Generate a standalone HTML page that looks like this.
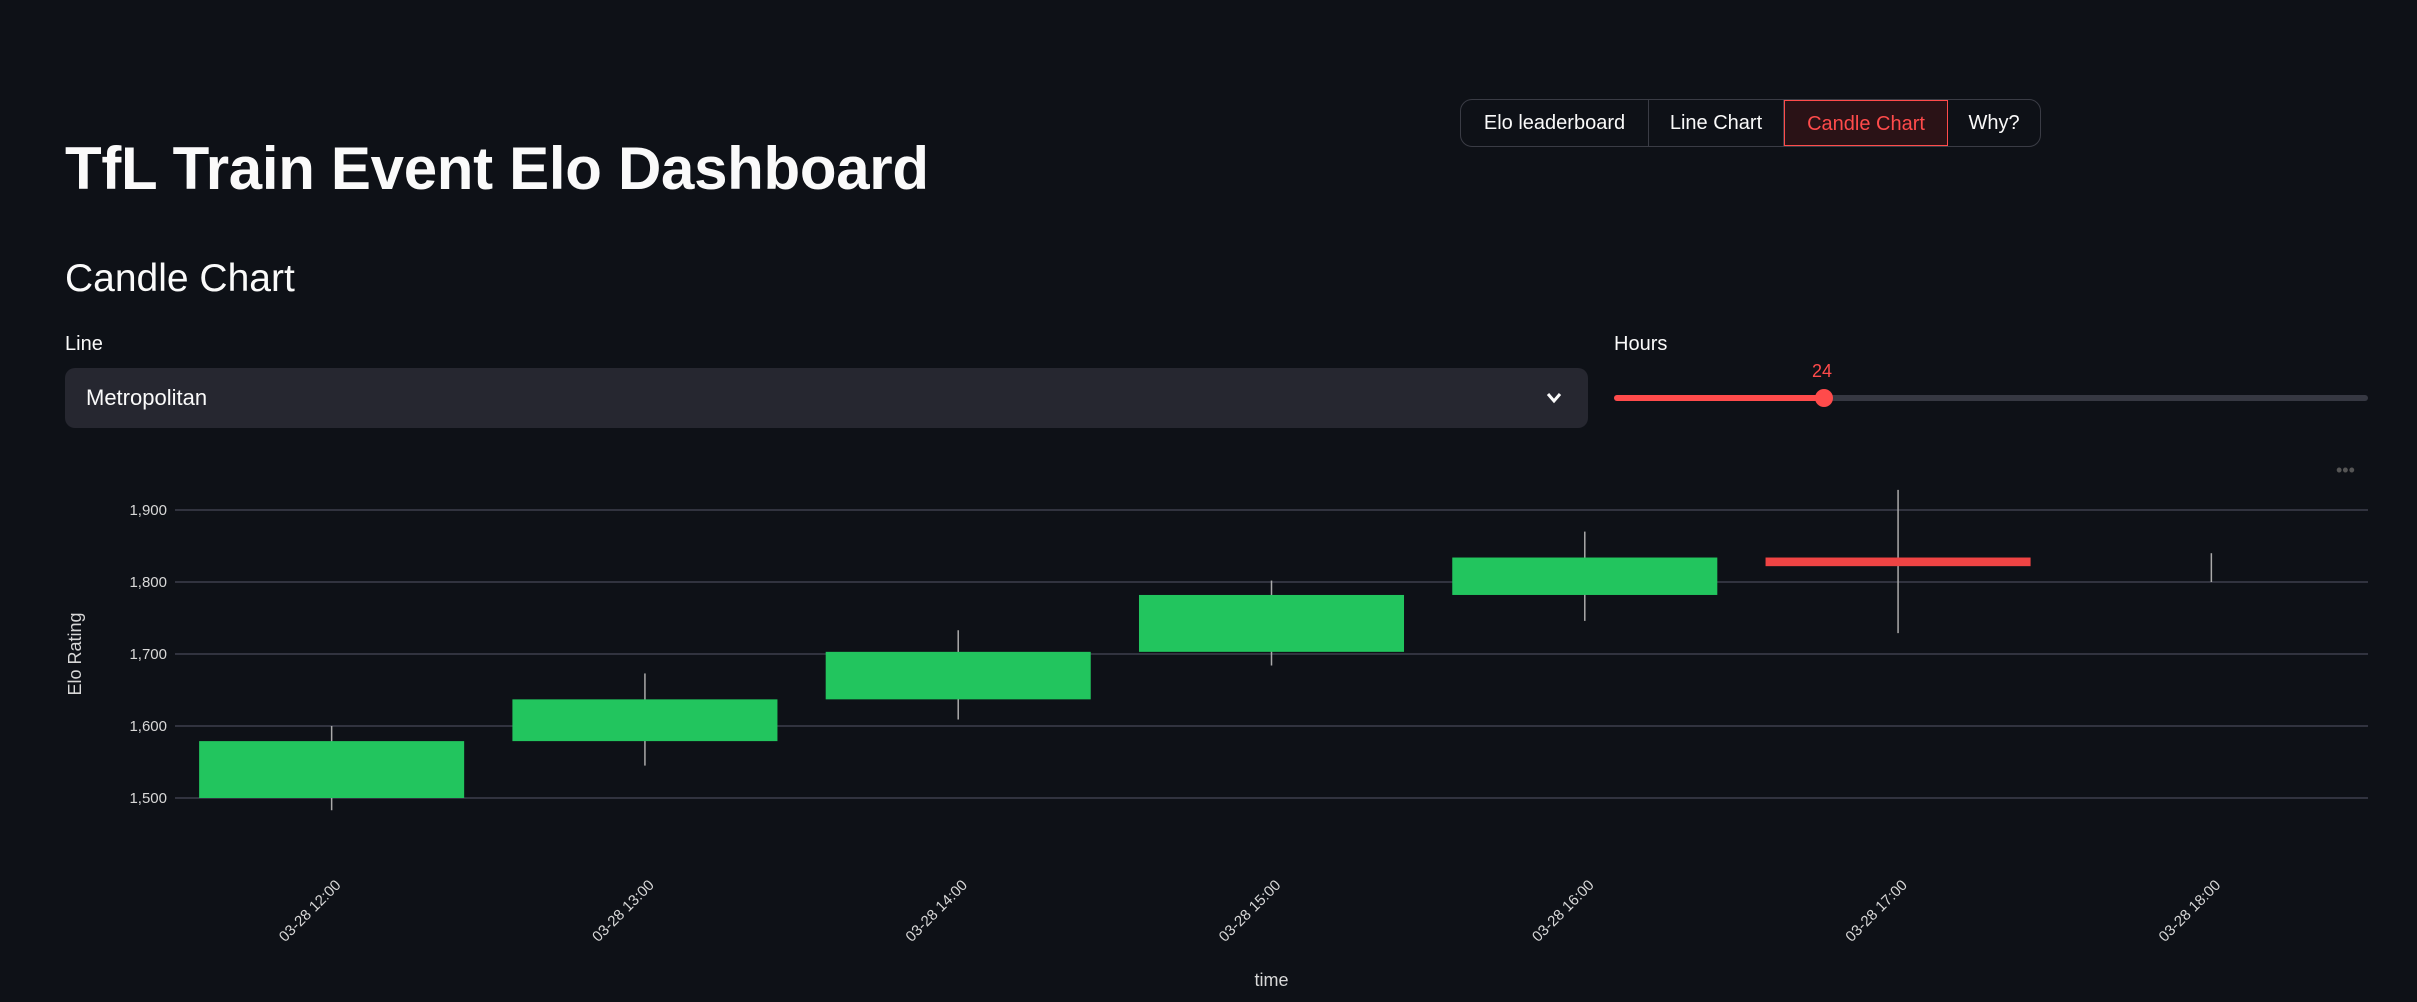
<!DOCTYPE html>
<html><head><meta charset="utf-8"><style>
html,body{margin:0;padding:0;background:#0e1117;width:2417px;height:1002px;overflow:hidden;font-family:"Liberation Sans",sans-serif;color:#fafafa}
.abs{position:absolute}
#nav{left:1460px;top:99px;width:579px;height:46px;border:1px solid #3a3c45;border-radius:12px;display:flex;overflow:hidden}
#nav div{height:46px;line-height:46px;font-size:20px;text-align:center;border-right:1px solid #3a3c45;box-sizing:border-box}
#nav div:last-child{border-right:none}
#nav .act{color:#ff4b4b;border:1px solid #ff4b4b;background:#2a1216}
</style></head><body>
<div id="nav" class="abs">
 <div style="width:188px">Elo leaderboard</div>
 <div style="width:135px">Line Chart</div>
 <div class="act" style="width:164px">Candle Chart</div>
 <div style="width:92px">Why?</div>
</div>
<div class="abs" style="left:65px;top:134px;font-size:60px;font-weight:bold;letter-spacing:-0.3px">TfL Train Event Elo Dashboard</div>
<div class="abs" style="left:65px;top:257px;font-size:39px">Candle Chart</div>
<div class="abs" style="left:65px;top:333px;font-size:20px">Line</div>
<div class="abs" style="left:65px;top:368px;width:1523px;height:60px;background:#262730;border-radius:10px">
 <span class="abs" style="left:21px;top:17px;font-size:22px">Metropolitan</span>
 <svg class="abs" style="left:1480px;top:22px" width="18" height="16"><path d="M3 4 L9 11 L15 4" stroke="#fafafa" stroke-width="3" fill="none"/></svg>
</div>
<div class="abs" style="left:1614px;top:333px;font-size:20px">Hours</div>
<div class="abs" style="left:1812px;top:361px;font-size:18px;color:#ff4b4b">24</div>
<div class="abs" style="left:1614px;top:395px;width:754px;height:6px;background:#363842;border-radius:3px"></div>
<div class="abs" style="left:1614px;top:395px;width:210px;height:6px;background:#ff4b4b;border-radius:3px"></div>
<div class="abs" style="left:1815px;top:389px;width:18px;height:18px;background:#ff4b4b;border-radius:9px"></div>
<div class="abs" style="left:2336px;top:460px;font-size:18px;color:#555">•••</div>
<svg id="chart" class="abs" style="left:0;top:0" width="2417" height="1002"></svg>
<script>
const categories=["03-28 12:00","03-28 13:00","03-28 14:00","03-28 15:00","03-28 16:00","03-28 17:00","03-28 18:00"];
const openVals=[1500,1579,1637,1703,1782,1834,1820];
const closeVals=[1579,1637,1703,1782,1834,1822,1820];
const highVals=[1600,1673,1733,1802,1870,1928,1840];
const lowVals=[1483,1545,1609,1684,1746,1729,1800];
const yTicks=[1500,1600,1700,1800,1900];
const yTickLabels=["1,500","1,600","1,700","1,800","1,900"];
const NS="http://www.w3.org/2000/svg",svg=document.getElementById('chart');
const X0=175,X1=2368,Y0=798,Y1=510,VMIN=1500,VMAX=1900;
const band=(X1-X0)/categories.length;
function xC(i){return X0+band*(i+0.5);}
function yS(v){return Y0-(v-VMIN)/(VMAX-VMIN)*(Y0-Y1);}
function mk(t,a){const e=document.createElementNS(NS,t);for(const k in a)e.setAttribute(k,a[k]);svg.appendChild(e);return e;}
yTicks.forEach((v,i)=>{
 const g=mk('line',{x1:X0,x2:X1,y1:yS(v),y2:yS(v),stroke:'#31333f','stroke-width':2});
 
 
 const t=mk('text',{x:X0-8,y:yS(v)+5,'text-anchor':'end','font-size':15,fill:'#d8d8d8'});t.textContent=yTickLabels[i];
 
 
});
const yt=mk('text',{transform:'translate(81,654) rotate(-90)','text-anchor':'middle','font-size':18,fill:'#d8d8d8'});yt.textContent='Elo Rating';


categories.forEach((c,i)=>{
 const x=xC(i),up=closeVals[i]>=openVals[i],col=up?'#22c55e':'#ef4444';
 const w=mk('line',{x1:x,x2:x,y1:yS(highVals[i]),y2:yS(lowVals[i]),stroke:'#aaa','stroke-width':1.5});
 
 
 const top=yS(Math.max(openVals[i],closeVals[i])),bot=yS(Math.min(openVals[i],closeVals[i]));
 if(bot-top>0){const r=mk('rect',{x:x-band*0.423,y:top,width:band*0.846,height:bot-top,fill:col});
 
 }
 const t=mk('text',{transform:`translate(${x+10},${886}) rotate(-45)`,'text-anchor':'end','font-size':15,fill:'#d8d8d8'});t.textContent=c;
 
 
});
const xt=mk('text',{x:(X0+X1)/2,y:986,'text-anchor':'middle','font-size':18,fill:'#d8d8d8'});xt.textContent='time';


</script>
</body></html>
